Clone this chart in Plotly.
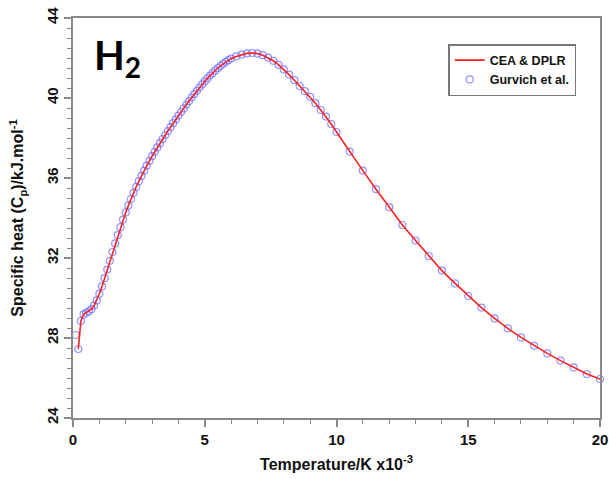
import plotly.graph_objects as go

# Temperature in units of 10^3 K
temperature = [
    0.1, 0.2, 0.3, 0.4, 0.5, 0.6, 0.7, 0.8, 0.9, 1.0,
    1.1, 1.2, 1.3, 1.4, 1.5, 1.6, 1.7, 1.8, 1.9, 2.0,
    2.1, 2.2, 2.3, 2.4, 2.5, 2.6, 2.7, 2.8, 2.9, 3.0,
    3.1, 3.2, 3.3, 3.4, 3.5, 3.6, 3.7, 3.8, 3.9, 4.0,
    4.1, 4.2, 4.3, 4.4, 4.5, 4.6, 4.7, 4.8, 4.9, 5.0,
    5.1, 5.2, 5.3, 5.4, 5.5, 5.6, 5.7, 5.8, 5.9, 6.0,
    6.2, 6.4, 6.6, 6.8, 7.0, 7.2, 7.4, 7.6, 7.8, 8.0,
    8.2, 8.4, 8.6, 8.8, 9.0, 9.2, 9.4, 9.6, 9.8, 10.0,
    10.5, 11.0, 11.5, 12.0, 12.5, 13.0, 13.5, 14.0, 14.5, 15.0,
    15.5, 16.0, 16.5, 17.0, 17.5, 18.0, 18.5, 19.0, 19.5, 20.0,
]

# Specific heat of H2, Gurvich et al. tables
cp_gurvich = [
    28.15, 27.45, 28.85, 29.18, 29.26, 29.33, 29.44, 29.62, 29.88, 30.21,
    30.58, 30.99, 31.42, 31.86, 32.30, 32.73, 33.14, 33.54, 33.92, 34.28,
    34.62, 34.95, 35.26, 35.56, 35.84, 36.11, 36.37, 36.62, 36.86, 37.09,
    37.31, 37.53, 37.74, 37.95, 38.15, 38.35, 38.54, 38.74, 38.93, 39.12,
    39.30, 39.48, 39.67, 39.84, 40.02, 40.19, 40.36, 40.52, 40.68, 40.83,
    40.98, 41.12, 41.25, 41.38, 41.50, 41.61, 41.71, 41.81, 41.89, 41.97,
    42.08, 42.17, 42.23, 42.25, 42.22, 42.14, 42.02, 41.86, 41.66, 41.43,
    41.17, 40.89, 40.60, 40.34, 40.06, 39.74, 39.40, 39.07, 38.70, 38.30,
    37.32, 36.37, 35.44, 34.54, 33.65, 32.87, 32.10, 31.37, 30.73, 30.10,
    29.52, 28.98, 28.48, 28.03, 27.61, 27.23, 26.87, 26.53, 26.20, 25.95,
]

# CEA & DPLR curve fit values, tabulated from 200 K upward
temperature_cea = temperature[1:]
cp_cea = cp_gurvich[1:]

AXIS_GREY = "#8a8a8a"
TEXT_FONT = "Liberation Sans"

fig = go.Figure()

fig.add_trace(go.Scatter(
    x=temperature, y=cp_gurvich,
    mode="markers",
    name="Gurvich et al.",
    marker=dict(symbol="circle-open", size=7,
                color="rgba(110,110,255,0.75)", line=dict(width=1.2)),
    cliponaxis=False,
))

fig.add_trace(go.Scatter(
    x=temperature_cea, y=cp_cea,
    mode="lines",
    name="CEA & DPLR",
    line=dict(color="#ff2020", width=1.6),
    cliponaxis=False,
))

fig.update_xaxes(
    range=[0, 20], tick0=0, dtick=5, automargin=False,
    ticks="outside", ticklen=7, tickwidth=1.5, tickcolor=AXIS_GREY,
    minor=dict(dtick=1, ticks="outside", ticklen=4, tickwidth=1.2, tickcolor=AXIS_GREY),
    showline=True, linecolor=AXIS_GREY, linewidth=2, mirror=True,
    showgrid=False, zeroline=False,
    tickfont=dict(family=TEXT_FONT, size=15, color="#111", weight="bold"),
    title=dict(text="Temperature/K x10<sup>-3</sup>", standoff=12,
               font=dict(family=TEXT_FONT, size=16, color="#111", weight="bold")),
)

fig.update_yaxes(
    range=[24, 44], tick0=24, dtick=4, automargin=False,
    ticks="outside", ticklen=7, tickwidth=1.5, tickcolor=AXIS_GREY,
    minor=dict(dtick=0.5, ticks="outside", ticklen=4, tickwidth=1.2, tickcolor=AXIS_GREY),
    showline=True, linecolor=AXIS_GREY, linewidth=2, mirror=True,
    showgrid=False, zeroline=False, tickangle=-90,
    tickfont=dict(family=TEXT_FONT, size=15, color="#111", weight="bold"),
    title=dict(text="Specific heat (C<sub>p</sub>)/kJ.mol<sup>-1</sup>", standoff=16,
               font=dict(family=TEXT_FONT, size=16, color="#111", weight="bold")),
)

fig.add_annotation(
    text="H<sub>2</sub>", xref="paper", yref="paper",
    x=0.036, y=0.972, xanchor="left", yanchor="top", showarrow=False,
    font=dict(family="Lato", size=40, color="#000", weight="bold"),
)

fig.update_layout(
    width=609, height=479,
    margin=dict(l=73, r=9, t=18, b=61),
    paper_bgcolor="white", plot_bgcolor="white",
    showlegend=True,
    legend=dict(
        x=0.712, y=0.935, xanchor="left", yanchor="top",
        traceorder="reversed",
        bordercolor="#777", borderwidth=1.5, bgcolor="white",
        font=dict(family=TEXT_FONT, size=12.5, color="#111", weight="bold"),
        itemwidth=30, tracegroupgap=0,
    ),
)

fig.write_html("out.html")
